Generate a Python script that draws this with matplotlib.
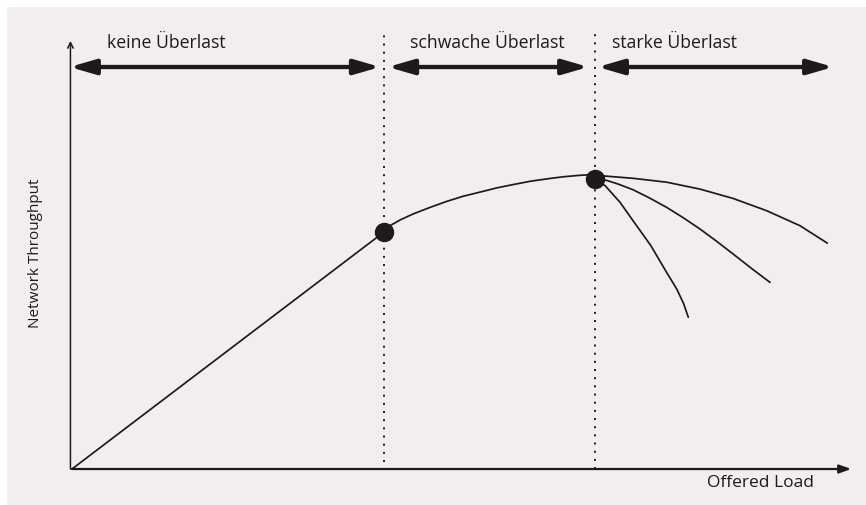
import matplotlib.pyplot as plt
from matplotlib.patches import Rectangle

plt.rcParams['font.family'] = ['Open Sans', 'DejaVu Sans']

# knee and peak of the throughput curve (load, throughput)
knee = (4.0, 7.9)
peak = (6.7, 9.67)

# linear part: no congestion
lin_load = [0.0, 4.0]
lin_thr = [0.0, 7.9]

# weak congestion: bend from knee to peak
weak_load = [4.0, 4.077, 4.205, 4.372, 4.59, 4.804, 5.013, 5.231, 5.445,
             5.654, 5.872, 6.086, 6.295, 6.513, 6.663]
weak_thr = [7.9, 8.11, 8.30, 8.50, 8.72, 8.92, 9.09, 9.23, 9.37,
            9.48, 9.59, 9.67, 9.74, 9.79, 9.81]

# strong congestion: three possible collapse branches
gentle_load = [6.663, 6.855, 7.192, 7.624, 8.051, 8.474, 8.906, 9.333, 9.683]
gentle_thr = [9.81, 9.76, 9.69, 9.56, 9.33, 9.02, 8.61, 8.11, 7.53]
middle_load = [6.705, 6.78, 6.855, 7.0, 7.192, 7.4, 7.624, 7.84, 8.051, 8.26, 8.474, 8.70, 8.949]
middle_thr = [9.67, 9.66, 9.62, 9.50, 9.31, 9.04, 8.72, 8.37, 8.00, 7.60, 7.17, 6.71, 6.22]
steep_load = [6.705, 6.833, 7.026, 7.192, 7.42, 7.624, 7.753, 7.84, 7.901]
steep_thr = [9.60, 9.45, 8.89, 8.28, 7.45, 6.55, 6.00, 5.52, 5.06]

regions = ['keine Überlast', 'schwache Überlast', 'starke Überlast']
region_from = [-0.03, 4.05, 6.74]
region_to = [3.95, 6.62, 9.76]
region_mid = [1.21, 5.32, 7.72]

ink = '#1c1a1b'

fig = plt.figure(figsize=(8.66, 5.06), dpi=100)
fig.patch.set_facecolor('white')
fig.patches.append(Rectangle((7/866, 0), 1, 498/506, transform=fig.transFigure,
                             facecolor='#f3eeee', edgecolor='none', zorder=-5))
ax = fig.add_axes([0, 0, 1, 1])
ax.set_xlim(-72/78, 794/78)
ax.set_ylim(-36/30, 470/30)
ax.axis('off')
ax.patch.set_alpha(0)

# axes with arrows
ax.annotate('', xy=(9.99, 0), xytext=(0, 0),
            arrowprops=dict(arrowstyle='-|>,head_length=0.5,head_width=0.18', color=ink,
                            lw=1.6, mutation_scale=14, shrinkA=0, shrinkB=0))
ax.annotate('', xy=(-0.02, 14.27), xytext=(-0.02, 0),
            arrowprops=dict(arrowstyle='->', color=ink, lw=1.1,
                            mutation_scale=10, shrinkA=0, shrinkB=0))

# region borders
ax.plot([knee[0], knee[0]], [0.25, 14.53], color=ink, lw=1.4, ls=(0, (1, 3.2)))
ax.plot([peak[0], peak[0]], [0, 14.6], color=ink, lw=1.4, ls=(0, (1, 3.2)))

# region arrows and labels
for name, a, b, m in zip(regions, region_from, region_to, region_mid):
    ax.annotate('', xy=(b, 13.4), xytext=(a, 13.4),
                arrowprops=dict(arrowstyle='<|-|>,head_length=1.1,head_width=0.32',
                                color=ink, lw=3.1, mutation_scale=14,
                                shrinkA=0, shrinkB=0))
    ax.text(m, 14.25, name, ha='center', va='center', fontsize=12.7, color=ink)

# throughput curves
for xs, ys in [(lin_load, lin_thr), (weak_load, weak_thr), (gentle_load, gentle_thr),
               (middle_load, middle_thr), (steep_load, steep_thr)]:
    ax.plot(xs, ys, color=ink, lw=1.25, solid_capstyle='round', solid_joinstyle='round')

ax.plot([knee[0], peak[0]], [knee[1], peak[1]], 'o', color=ink, ms=13, zorder=5)

ax.text(-0.47, 7.23, 'Network Throughput', rotation=90, ha='center', va='center',
        fontsize=11, color=ink)
ax.text(8.83, -0.43, 'Offered Load', ha='center', va='center', fontsize=12.5, color=ink)

fig.savefig('out.png', dpi=100)
